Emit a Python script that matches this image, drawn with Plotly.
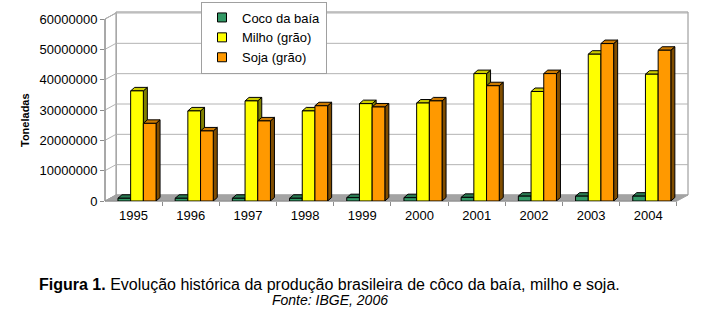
import plotly.graph_objects as go

# ---------------- data ----------------
years = ["1995", "1996", "1997", "1998", "1999", "2000", "2001", "2002", "2003", "2004"]
coco = [0.9e6, 0.9e6, 0.9e6, 0.9e6, 1.1e6, 1.1e6, 1.2e6, 1.6e6, 1.6e6, 1.6e6]
milho = [36.3e6, 29.7e6, 33.0e6, 29.7e6, 32.1e6, 32.3e6, 42.0e6, 36.1e6, 48.4e6, 41.8e6]
soja = [25.6e6, 23.1e6, 26.4e6, 31.4e6, 31.0e6, 33.0e6, 38.0e6, 42.0e6, 51.9e6, 49.7e6]
series_names = ["Coco da baía", "Milho (grão)", "Soja (grão)"]
y_ticks = [0, 10000000, 20000000, 30000000, 40000000, 50000000, 60000000]
y_tick_text = [str(v) for v in y_ticks]

# ---------------- styles / geometry ----------------
W, H = 714, 309
L, RGT, TOP, BOT = 105, 688, 12, 201          # plot area in pixels
Y_PER_PX = 60e6 / 182.0
YMAX = (BOT - TOP) * Y_PER_PX
X_STEP, X0_PX = 57.2, 133.5                    # category label spacing / first label
XR0 = -(X0_PX - L) / X_STEP
XR1 = XR0 + (RGT - L) / X_STEP
BAR_SHIFT = 3.5 / X_STEP                       # bars sit slightly right of labels
WALL_DX, WALL_DY = 11, 6
BAR_DX, BAR_DY = 4.0 / X_STEP, 3.5 * Y_PER_PX
BW = 12.7 / X_STEP

front = ["#339966", "#FFFF00", "#FF9900"]
topc = ["#2a7a52", "#CCCC00", "#CC7A00"]
sidec = ["#1a4d33", "#808000", "#804D00"]
GRID = "#b4b4b4"
WALLLINE = "#8c8c8c"
FLOOR = "#a3a3a3"
FONT = "Liberation Sans, Arial, sans-serif"


def px(x):
    return (x - L) / (RGT - L)


def py(y):
    return (BOT - y) / (BOT - TOP)


def ypx(v):
    return BOT - v / Y_PER_PX


fig = go.Figure()

# 3D faces (sides, tops) on base axes, drawn under the front faces
for k, vals in enumerate([coco, milho, soja]):
    sx, sy, tx, ty = [], [], [], []
    for i, v in enumerate(vals):
        x0 = i + BAR_SHIFT + (k - 1.5) * BW
        x1 = x0 + BW
        sx += [x1, x1 + BAR_DX, x1 + BAR_DX, x1, x1, None]
        sy += [0, BAR_DY, v + BAR_DY, v, 0, None]
        tx += [x0, x1, x1 + BAR_DX, x0 + BAR_DX, x0, None]
        ty += [v, v, v + BAR_DY, v + BAR_DY, v, None]
    fig.add_trace(go.Scatter(x=sx, y=sy, mode="lines", fill="toself", fillcolor=sidec[k],
                             line=dict(color="black", width=1), showlegend=False,
                             hoverinfo="skip", xaxis="x", yaxis="y"))
    fig.add_trace(go.Scatter(x=tx, y=ty, mode="lines", fill="toself", fillcolor=topc[k],
                             line=dict(color="black", width=1), showlegend=False,
                             hoverinfo="skip", xaxis="x", yaxis="y"))

# front faces as real bars on the overlay axes
for k, vals in enumerate([coco, milho, soja]):
    fig.add_trace(go.Bar(x=years, y=vals, name=series_names[k], marker_color=front[k],
                         marker_line=dict(color="black", width=1),
                         width=BW, offset=BAR_SHIFT + (k - 1.5) * BW,
                         showlegend=False, xaxis="x2", yaxis="y2"))

# legend entries (small squares like the original)
for k in range(3):
    fig.add_trace(go.Scatter(x=[None], y=[None], mode="markers", name=series_names[k],
                             marker=dict(symbol="square", size=9, color=front[k],
                                         line=dict(color="black", width=1)),
                             xaxis="x", yaxis="y"))

shapes = []
# back wall
shapes.append(dict(type="rect", xref="paper", yref="paper", x0=px(L + WALL_DX), x1=px(RGT),
                   y0=py(BOT - WALL_DY), y1=py(TOP), fillcolor="white",
                   line=dict(color=WALLLINE, width=1), layer="below"))
# left wall
top_front = ypx(y_ticks[-1])
shapes.append(dict(type="path", xref="paper", yref="paper",
                   path=f"M{px(L)},{py(BOT)} L{px(L)},{py(top_front)} L{px(L+WALL_DX)},{py(top_front-WALL_DY)} "
                        f"L{px(L+WALL_DX)},{py(BOT-WALL_DY)} Z",
                   fillcolor="white", line=dict(color=WALLLINE, width=1), layer="below"))
# floor
shapes.append(dict(type="path", xref="paper", yref="paper",
                   path=f"M{px(L)},{py(BOT)} L{px(RGT-WALL_DX)},{py(BOT)} L{px(RGT)},{py(BOT-WALL_DY)} "
                        f"L{px(L+WALL_DX)},{py(BOT-WALL_DY)} Z",
                   fillcolor=FLOOR, line=dict(color=FLOOR, width=1), layer="below"))
# gridlines (left wall diagonal + back wall horizontal)
for v in y_ticks[1:]:
    yf = ypx(v)
    shapes.append(dict(type="path", xref="paper", yref="paper",
                       path=f"M{px(L)},{py(yf)} L{px(L+WALL_DX)},{py(yf-WALL_DY)} L{px(RGT)},{py(yf-WALL_DY)}",
                       line=dict(color=GRID, width=1), layer="below"))
# front y axis line
shapes.append(dict(type="line", xref="paper", yref="paper", x0=px(L), x1=px(L),
                   y0=py(BOT), y1=py(top_front), line=dict(color=WALLLINE, width=1), layer="below"))
# front x axis line
shapes.append(dict(type="line", xref="paper", yref="paper", x0=px(L), x1=px(RGT - WALL_DX),
                   y0=py(BOT), y1=py(BOT), line=dict(color=WALLLINE, width=1), layer="below"))

annotations = [
    dict(text="<b>Toneladas</b>", xref="paper", yref="paper", x=px(25), y=py(120),
         xanchor="center", yanchor="middle",
         textangle=-90, showarrow=False, font=dict(family=FONT, size=11, color="black")),
    dict(text="<b>Figura 1.</b> Evolução histórica da produção brasileira de côco da baía, milho e soja.",
         xref="paper", yref="paper", x=px(329), y=py(284), xanchor="center", yanchor="middle",
         showarrow=False, font=dict(family=FONT, size=16, color="black")),
    dict(text="<i>Fonte: IBGE, 2006</i>", xref="paper", yref="paper", x=px(330), y=py(300),
         xanchor="center", yanchor="middle",
         showarrow=False, font=dict(family=FONT, size=14, color="black")),
]

fig.update_layout(
    width=W, height=H,
    margin=dict(l=L, r=W - RGT, t=TOP, b=H - BOT, pad=0, autoexpand=False),
    paper_bgcolor="white", plot_bgcolor="rgba(0,0,0,0)",
    barmode="overlay",
    shapes=shapes, annotations=annotations,
    font=dict(family=FONT, size=12, color="black"),
    showlegend=True,
    legend=dict(x=px(201), y=py(1.5), xanchor="left", yanchor="top",
                bgcolor="white", bordercolor="#a0a0a0", borderwidth=1,
                font=dict(family=FONT, size=13, color="black"),
                traceorder="normal", itemwidth=30, itemsizing="trace"),
    xaxis=dict(range=[XR0, XR1], visible=False, fixedrange=True),
    yaxis=dict(range=[0, YMAX], tickvals=y_ticks, ticktext=y_tick_text, ticks="outside",
               ticklen=4, tickcolor=WALLLINE, showgrid=False, zeroline=False, showline=False,
               tickfont=dict(family=FONT, size=13, color="black")),
    xaxis2=dict(type="category", overlaying="x", range=[XR0, XR1], tickson="boundaries",
                ticks="outside", ticklen=4, tickcolor=WALLLINE, showgrid=False, showline=False,
                zeroline=False, ticklabelstandoff=5,
                tickfont=dict(family=FONT, size=13, color="black")),
    yaxis2=dict(overlaying="y", range=[0, YMAX], visible=False),
)

fig.write_html("out.html", config={"displayModeBar": False},
               post_script="document.body.style.margin='0';")
